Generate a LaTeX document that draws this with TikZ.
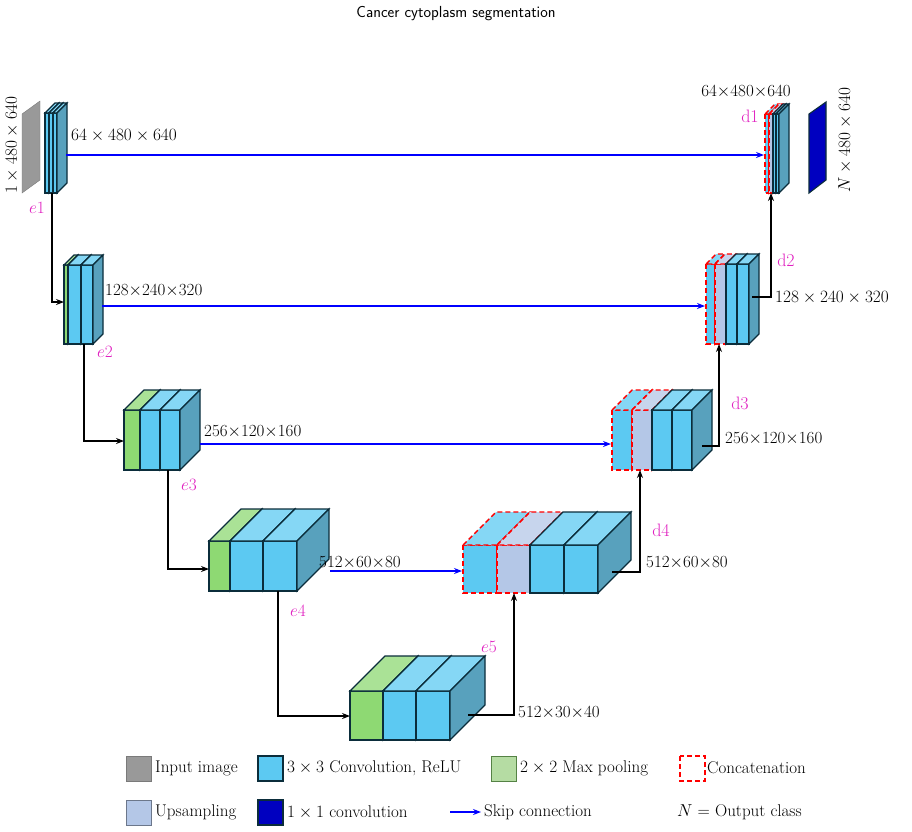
\documentclass[tikz,border=0pt]{standalone}
\usepackage{amsmath}
\usepackage{tikz}
\usetikzlibrary{arrows.meta,positioning}
\definecolor{conv}{HTML}{5CC9F2}
\definecolor{pool}{HTML}{8ED973}
\definecolor{poolleg}{HTML}{B5DCA3}
\definecolor{upsm}{HTML}{B4C7E7}
\definecolor{inimg}{HTML}{999999}
\definecolor{outc}{HTML}{0000C0}
\definecolor{edgec}{HTML}{0B2D3B}
\definecolor{lab}{HTML}{E020C0}
\tikzstyle{solidc}=[draw=edgec,line width=1.1pt]
\tikzstyle{concat}=[draw=red,dash pattern=on 5pt off 3pt,line width=1.4pt]
\tikzstyle{skip}=[draw=blue,line width=1.1pt,-{Stealth[length=8pt]}]
\tikzstyle{flow}=[draw=black,line width=1.1pt,-{Stealth[length=8pt]}]
\tikzstyle{dim}=[font=\fontsize{17}{19}\selectfont,inner sep=1pt]
\tikzstyle{tag}=[font=\fontsize{18}{20}\selectfont,text=lab,inner sep=1pt]
% x, y (front top-left), width, height, depth, fill, line style
\newcommand{\slab}[7]{
  \draw[#7,fill=#6] (#1,#2) rectangle ++(#3,#4);
  \draw[#7,fill=#6!75!white] (#1,#2) -- ++(#5,-#5) -- ++(#3,0) -- ++(-#5,#5) -- cycle;
  \draw[#7,fill=#6!75!black!90] ({#1+#3},#2) -- ++(#5,-#5) -- ++(0,#4) -- ++(-#5,#5) -- cycle;
}
\begin{document}
\begin{tikzpicture}[x=1pt,y=-1pt]
  \useasboundingbox (0,0) rectangle (912,831);
  \node[font=\sffamily\fontsize{16}{18}\selectfont] (title) at (456,14) {Cancer cytoplasm segmentation};

  % input and output images
  \draw[draw=inimg!80!black,fill=inimg] (22,114) -- (40,101) -- (40,180) -- (22,193) -- cycle;
  \draw[draw=edgec,line width=1.1pt,fill=outc] (809,114) -- (826,102) -- (826,180) -- (809,193) -- cycle;
  \node[dim,rotate=90] (inlab) at (12,145) {$1\times480\times640$};
  \node[dim,rotate=90] (outlab) at (845,140) {$N\times480\times640$};

  % encoder
  \slab{45}{113}{4}{80}{10}{conv}{solidc}
  \slab{49}{113}{4}{80}{10}{conv}{solidc}
  \slab{53}{113}{4}{80}{10}{conv}{solidc}
  \slab{64}{265}{4}{79}{10}{pool}{solidc}
  \slab{68}{265}{13}{79}{10}{conv}{solidc}
  \slab{81}{265}{12}{79}{10}{conv}{solidc}
  \slab{124}{410}{16}{60}{20}{pool}{solidc}
  \slab{140}{410}{20}{60}{20}{conv}{solidc}
  \slab{160}{410}{20}{60}{20}{conv}{solidc}
  \slab{209}{541}{21}{50}{32}{pool}{solidc}
  \slab{230}{541}{33}{50}{32}{conv}{solidc}
  \slab{263}{541}{34}{50}{32}{conv}{solidc}
  \slab{350}{691}{33}{49}{35}{pool}{solidc}
  \slab{383}{691}{33}{49}{35}{conv}{solidc}
  \slab{416}{691}{34}{49}{35}{conv}{solidc}

  % decoder
  \slab{463}{545}{34}{48}{33}{conv}{concat}
  \slab{497}{545}{33}{48}{33}{upsm}{concat}
  \slab{530}{545}{34}{48}{33}{conv}{solidc}
  \slab{564}{545}{34}{48}{33}{conv}{solidc}
  \slab{612}{410}{20}{60}{20}{conv}{concat}
  \slab{632}{410}{20}{60}{20}{upsm}{concat}
  \slab{652}{410}{20}{60}{20}{conv}{solidc}
  \slab{672}{410}{20}{60}{20}{conv}{solidc}
  \slab{706}{264}{9}{80}{10}{conv}{concat}
  \slab{715}{264}{11}{80}{10}{upsm}{concat}
  \slab{726}{264}{11}{80}{10}{conv}{solidc}
  \slab{737}{264}{12}{80}{10}{conv}{solidc}
  \slab{765}{114}{4}{79}{10}{conv}{concat}
  \slab{769}{114}{4}{79}{10}{upsm}{concat}
  \slab{773}{114}{3}{79}{10}{conv}{solidc}
  \slab{776}{114}{3}{79}{10}{conv}{solidc}

  % connection points
  \coordinate (e1r) at (66,155);   \coordinate (d1l) at (764,155);
  \coordinate (e2r) at (102,306);  \coordinate (d2l) at (705,306);
  \coordinate (e3r) at (200,444);  \coordinate (d3l) at (611,444);
  \coordinate (e4r) at (330,571);  \coordinate (d4l) at (462,571);
  \coordinate (e1b) at (52,193);   \coordinate (e2l) at (64,302);
  \coordinate (e2b) at (84,344);   \coordinate (e3l) at (124,441);
  \coordinate (e3b) at (168,470);  \coordinate (e4l) at (209,569);
  \coordinate (e4b) at (278,591);  \coordinate (e5l) at (350,716);
  \coordinate (e5r) at (468,715);  \coordinate (d4b) at (514,593);
  \coordinate (d4r) at (612,572);  \coordinate (d3b) at (640,470);
  \coordinate (d3r) at (702,446);  \coordinate (d2b) at (719,344);
  \coordinate (d2r) at (752,297);  \coordinate (d1b) at (771,193);

  % skip connections
  \draw[skip] (e1r) -- (d1l);
  \draw[skip] (e2r) -- (d2l);
  \draw[skip] (e3r) -- (d3l);
  \draw[skip] (e4r) -- (d4l);

  % down and up paths
  \draw[flow] (e1b) |- (e2l);
  \draw[flow] (e2b) |- (e3l);
  \draw[flow] (e3b) |- (e4l);
  \draw[flow] (e4b) |- (e5l);
  \draw[flow] (e5r) -| (d4b);
  \draw[flow] (d4r) -| (d3b);
  \draw[flow] (d3r) -| (d2b);
  \draw[flow] (d2r) -| (d1b);

  % sizes
  \node[dim,anchor=west] (s1) at (70,136) {$64\times480\times640$};
  \node[dim,anchor=west] (s2) at (104,291) {128$\times$240$\times$320};
  \node[dim,anchor=west] (s3) at (203,432) {256$\times$120$\times$160};
  \node[dim,anchor=west] (s4) at (318,563) {512$\times$60$\times$80};
  \node[dim,anchor=west] (s5) at (517,713) {512$\times$30$\times$40};
  \node[dim,anchor=west] (s6) at (645,563) {512$\times$60$\times$80};
  \node[dim,anchor=west] (s7) at (724,439) {256$\times$120$\times$160};
  \node[dim,anchor=west] (s8) at (774,298) {$128\times240\times320$};
  \node[dim] (s9) at (746,92) {64$\times$480$\times$640};

  % block tags
  \node[tag] (e1) at (37,208) {$e1$};
  \node[tag] (e2) at (105,352) {$e2$};
  \node[tag] (e3) at (189,485) {$e3$};
  \node[tag] (e4) at (298,611) {$e4$};
  \node[tag] (e5) at (489,647) {$e5$};
  \node[tag] (d1) at (750,116) {d1};
  \node[tag] (d2) at (786,260) {d2};
  \node[tag] (d3) at (740,403) {d3};
  \node[tag] (d4) at (661,530) {d4};

  % legend
  \draw[draw=inimg!80!black,line width=1pt,fill=inimg] (126,756) rectangle (151,781);
  \node[dim,anchor=west] (l1) at (154,768) {Input image};
  \draw[solidc,fill=conv] (258,756) rectangle (283,781);
  \node[dim,anchor=west] (l2) at (286,768) {$3\times3$ Convolution, ReLU};
  \draw[draw=pool!60!black,line width=1pt,fill=poolleg] (491,756) rectangle (516,781);
  \node[dim,anchor=west] (l3) at (519,768) {$2\times2$ Max pooling};
  \draw[concat] (680,756) rectangle (705,781);
  \node[dim,anchor=west] (l4) at (706,768) {Concatenation};
  \draw[draw=upsm!60!black,line width=1pt,fill=upsm] (126,800) rectangle (151,825);
  \node[dim,anchor=west] (l5) at (154,812) {Upsampling};
  \draw[solidc,fill=outc] (258,800) rectangle (283,825);
  \node[dim,anchor=west] (l6) at (286,812) {$1\times1$ convolution};
  \coordinate (ka) at (450,812); \coordinate (kb) at (481,812);
  \draw[skip] (ka) -- (kb);
  \node[dim,anchor=west] (l7) at (483,812) {Skip connection};
  \node[dim,anchor=west] (l8) at (676,812) {$N$ = Output class};
\end{tikzpicture}
\end{document}
